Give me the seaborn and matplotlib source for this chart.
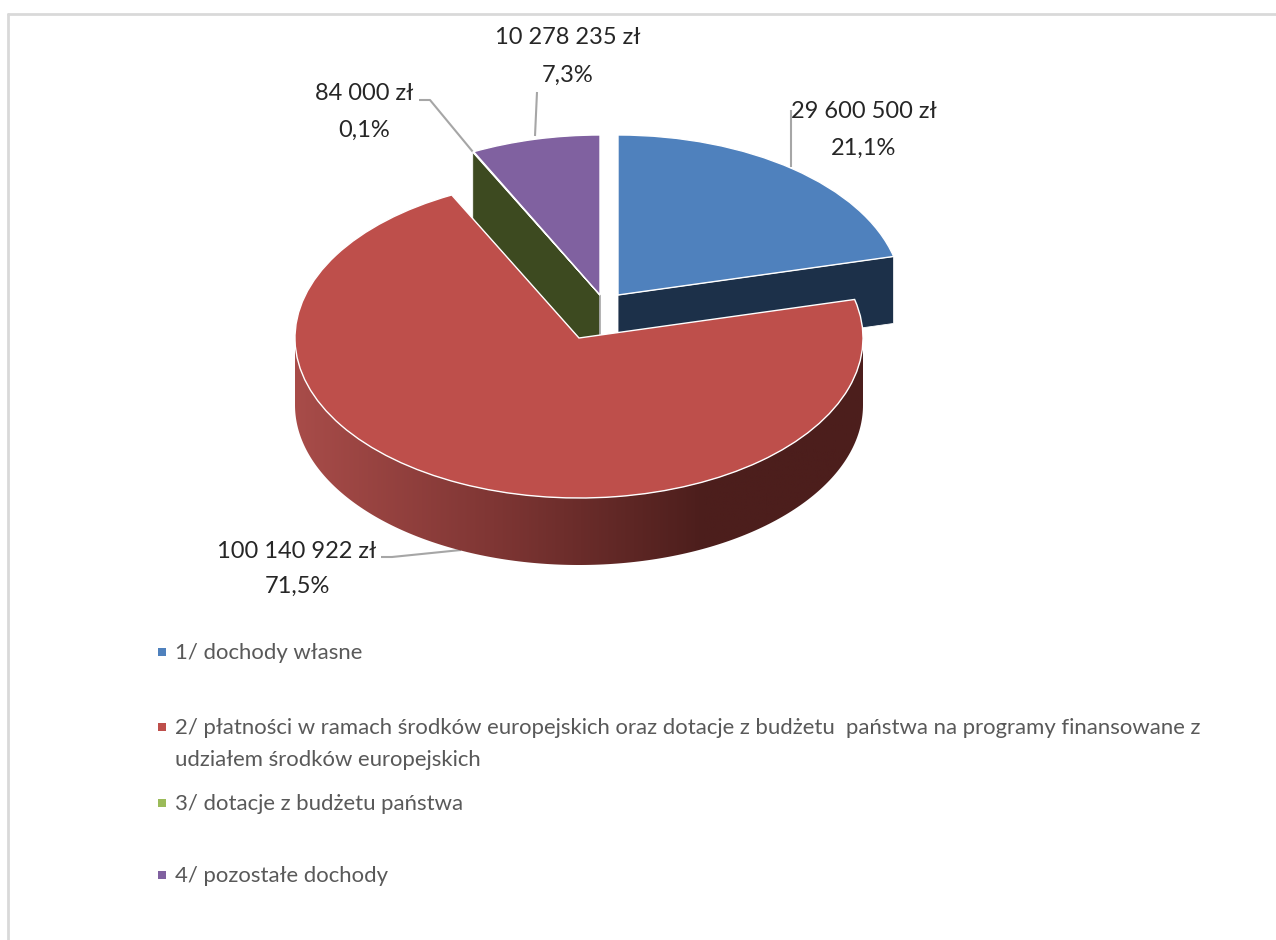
import matplotlib
matplotlib.use("Agg")
import matplotlib.pyplot as plt
import numpy as np
import seaborn as sns
from matplotlib.colors import LinearSegmentedColormap
from matplotlib.patches import Polygon

# chart data
categories = [
    "1/ dochody własne",
    "2/ płatności w ramach środków europejskich oraz dotacje z budżetu  państwa na programy finansowane z\nudziałem środków europejskich",
    "3/ dotacje z budżetu państwa",
    "4/ pozostałe dochody",
]
values = [29600500, 100140922, 84000, 10278235]
colors = sns.color_palette(["#4f81bd", "#be4f4b", "#9bbb59", "#8061a0"])

# layout in reference pixels
W, H = 1276, 940
RX, RY = 284, 160
DEPTH = 67
RED_CENTER = (579, 338)
CENTERS = [(618, 295), RED_CENTER, (600, 295), (600, 295)]
LABEL_POS = [(864, 112, 148), (297, 551, 586), (364, 93, 130), (568, 37, 75)]
LEADERS = [
    [(791, 110), (791, 167)],
    [(381, 557), (392, 557), (461, 550)],
    [(419, 100), (430, 100), (473, 152)],
    [(537, 92), (535, 136)],
]
LEGEND_Y = [653, 744, 804, 876]


def px(x, y):
    return (x - RED_CENTER[0]) / RX, (RED_CENTER[1] - y) / RY


sns.set_theme(style="white")
plt.rcParams["font.family"] = ["Lato", "DejaVu Sans"]

fig = plt.figure(figsize=(W / 100, H / 100), dpi=100)
ax = fig.add_axes([0, 0, 1, 1])
wedges, _ = ax.pie(values, colors=colors, startangle=90, counterclock=False,
                   wedgeprops={"edgecolor": "white", "linewidth": 1.0, "zorder": 3})
for wedge, c in zip(wedges, CENTERS):
    wedge.set_center(px(*c))
ax.set_aspect("auto")
x0, y0 = px(0, H)
x1, y1 = px(W, 0)
ax.set_xlim(x0, x1)
ax.set_ylim(y0, y1)
ax.axis("off")
depth = DEPTH / RY

# cut faces seen behind the big slice
for wedge, angle, face in [(wedges[0], wedges[0].theta1, "#1c3049"),
                           (wedges[2], wedges[2].theta2, "#3d4a20")]:
    cx, cy = wedge.center
    rim = (cx + np.cos(np.radians(angle)), cy + np.sin(np.radians(angle)))
    ax.add_patch(Polygon([(cx, cy), rim, (rim[0], rim[1] - depth), (cx, cy - depth)],
                         closed=True, facecolor=face, edgecolor="white", linewidth=0.6, zorder=1))
# edge of the purple slice, seen end on
cx, cy = wedges[3].center
ax.plot([cx, cx], [cy, cy - depth], color="#a6a6a6", lw=1.2, zorder=1)

# outer wall of the big slice, with horizontal shading
red = wedges[1]
t = np.radians(np.linspace(-180, 0, 200))
arc_x = red.center[0] + np.cos(t)
arc_y = red.center[1] + np.sin(t)
wall = Polygon(np.r_[np.c_[arc_x, arc_y], np.c_[arc_x[::-1], arc_y[::-1] - depth]],
               closed=True, transform=ax.transData, facecolor="none", edgecolor="none")
ax.add_patch(wall)
shade = LinearSegmentedColormap.from_list(
    "wall", [(0, "#a84c49"), (0.35, "#7f3634"), (0.72, "#4c1e1c"), (1, "#4c1e1c")])
img = ax.imshow(np.linspace(0, 1, 256)[None, :], cmap=shade, aspect="auto", zorder=2,
                extent=(arc_x.min(), arc_x.max(), arc_y.min() - depth, arc_y.max()))
img.set_clip_path(wall)
ax.set_xlim(x0, x1)
ax.set_ylim(y0, y1)

# labels and leader lines
total = sum(values)
for v, (x, y_a, y_b), line in zip(values, LABEL_POS, LEADERS):
    money = f"{v:,}".replace(",", " ") + " zł"
    pct = f"{100 * v / total:.1f}%".replace(".", ",")
    ax.text(*px(x, y_a), money, ha="center", va="center", fontsize=17, color="#262626", zorder=5)
    ax.text(*px(x, y_b), pct, ha="center", va="center", fontsize=17, color="#262626", zorder=5)
    pts = np.array([px(*p) for p in line])
    ax.plot(pts[:, 0], pts[:, 1], color="#a6a6a6", lw=1.5, zorder=1.5, solid_capstyle="butt")

# legend
for label, c, y in zip(categories, colors, LEGEND_Y):
    first_y = 727 if "\n" in label else y - 1
    ax.plot(*px(162, first_y), marker="s", ms=6.2, color=c, mew=0, zorder=5)
    ax.text(*px(175, y), label, ha="left", va="center", fontsize=15.9, color="#595959",
            linespacing=1.8, zorder=5)

# chart frame, cropped at the top left
for line in ([(8, H), (8, 13.5)], [(8, 13.5), (W, 13.5)]):
    pts = np.array([px(*p) for p in line])
    ax.plot(pts[:, 0], pts[:, 1], color="#d9d9d9", lw=2, zorder=1)

fig.savefig("out.png", dpi=100, facecolor="white")
